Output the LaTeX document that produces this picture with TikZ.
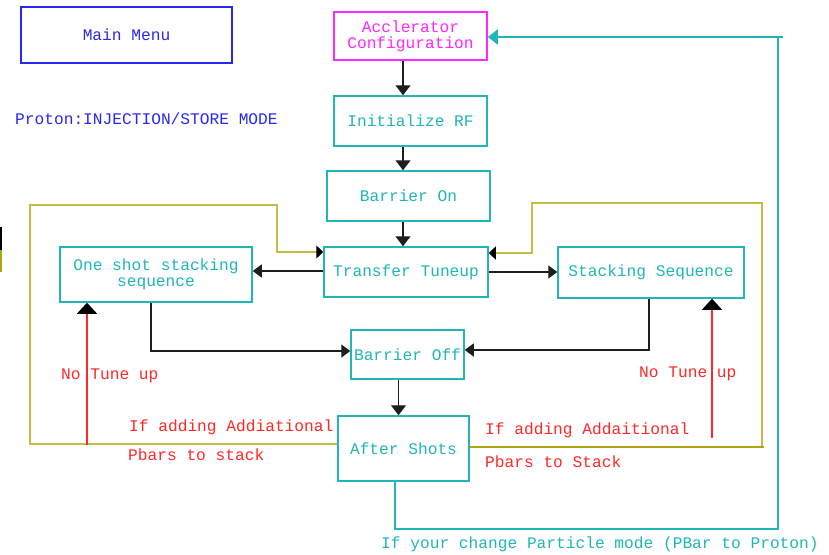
\documentclass[tikz,border=0pt]{standalone}
\usepackage{fontspec}
\setmonofont{Liberation Mono}
\usetikzlibrary{arrows.meta}

\definecolor{boxcyan}{RGB}{32,182,182}
\definecolor{cfgmag}{RGB}{255,40,255}
\definecolor{menublue}{RGB}{40,40,240}
\definecolor{notered}{RGB}{255,40,40}
\definecolor{loopolive}{RGB}{195,190,70}
\definecolor{loopdark}{RGB}{175,165,20}
\definecolor{wire}{RGB}{30,30,30}

\tikzset{
  txt/.style={font=\ttfamily\fontsize{16.2}{18}\selectfont, inner sep=0pt},
  stepbox/.style={draw=boxcyan, text=boxcyan, line width=1.5pt, txt, align=center},
  wireline/.style={draw=wire, line width=1.4pt},
  flow/.style={wireline, -{Triangle[width=15pt,length=10pt]}},
  sideflow/.style={wireline, -{Triangle[width=13pt,length=9pt]}},
  olivewire/.style={draw=loopolive, line width=1.3pt},
  backflow/.style={olivewire, -{Triangle[width=13pt,length=7pt,color=black,fill=black]}},
  cyanloop/.style={draw=boxcyan, line width=1.5pt},
  redflow/.style={draw=notered, line width=1.3pt, -{Triangle[width=20pt,length=11pt,color=black,fill=black]}},
  redtxt/.style={txt, text=notered, anchor=west},
}

\begin{document}
\begin{tikzpicture}[x=1pt, y=-1pt]
\useasboundingbox (0,0) rectangle (829,554);

% boxes
\node[draw=menublue, text=menublue, line width=1.5pt, txt,
      minimum width=211pt, minimum height=56pt] (menu) at (126.5,35) {Main Menu};
\node[txt, text=menublue, anchor=west] (mode) at (15,119) {Proton:INJECTION/STORE MODE};

\node[stepbox, draw=cfgmag, text=cfgmag, minimum width=153pt, minimum height=48pt]
  (accel) at (410.5,36) {Acclerator\\[-2pt]Configuration};
\node[stepbox, minimum width=153pt, minimum height=50pt] (initrf) at (410.5,121) {Initialize RF};
\node[stepbox, minimum width=163pt, minimum height=50pt] (barron) at (408.5,196) {Barrier On};
\node[stepbox, minimum width=164pt, minimum height=50pt] (transfer) at (406,272) {Transfer Tuneup};
\node[stepbox, minimum width=192pt, minimum height=55pt] (oneshot) at (156,274.5) {One shot stacking\\[-2pt]sequence};
\node[stepbox, minimum width=186pt, minimum height=51pt] (stacking) at (651,272.5) {Stacking Sequence};
\node[stepbox, minimum width=113pt, minimum height=49pt] (barroff) at (407.5,354.5) {Barrier Off};
\node[stepbox, minimum width=131pt, minimum height=65pt] (after) at (403.5,448.5) {After Shots};

% main chain
\draw[flow] ([xshift=-7.5pt]accel.south) -- ([xshift=-7.5pt]accel.south |- initrf.north);
\draw[flow] ([xshift=-7.5pt]initrf.south) -- ([xshift=-7.5pt]initrf.south |- barron.north);
\draw[flow] ([xshift=-5.5pt]barron.south) -- ([xshift=-5.5pt]barron.south |- transfer.north);
\draw[sideflow] ([yshift=1pt]transfer.west) -- ([yshift=1pt]transfer.west -| oneshot.east);
\draw[sideflow] (transfer.east) -- (transfer.east -| stacking.west);
\draw[sideflow] ([xshift=-5pt]oneshot.south) |- ([yshift=3.5pt]barroff.west);
\draw[sideflow] ([xshift=-2pt]stacking.south) |- ([yshift=4.5pt]barroff.east);
\draw[flow] ([xshift=-9pt]barroff.south) -- ([xshift=-9pt]barroff.south |- after.north);

% olive return paths into the tuneup
\draw[backflow] ([yshift=4.5pt]after.west) -- (30,444) -- (30,205) -- (277,205) -- (277,252)
  -- ([yshift=20pt]transfer.west);
\draw[backflow] (762,447) -- (762,203) -- (532,203) -- (532,253) -- ([yshift=19pt]transfer.east);
\draw[draw=loopdark, line width=2.6pt] ([yshift=1.5pt]after.east) -- (764,447);

% cyan return path to the configuration
\draw[cyanloop, -{Triangle[width=15pt,length=10pt]}] ([xshift=-8.5pt]after.south) -- (395,529)
  -- (778,529) -- (778,37) -- (accel.east |- 0,37);
\draw[cyanloop] (778,37) -- (783,37);

% red no-tune-up paths
\coordinate (redl) at (87,445);
\coordinate (redr) at (712,438);
\draw[redflow] (redl) -- (redl |- oneshot.south);
\draw[redflow] (redr) -- (redr |- stacking.south);

% labels
\node[redtxt] (ntl) at (61,376) {No Tune up};
\node[redtxt] (ntr) at (639,374) {No Tune up};
\node[redtxt] (addl) at (129,427) {If adding Addiational};
\node[redtxt] (pbl) at (128,455) {Pbars to stack};
\node[redtxt] (addr) at (485,430) {If adding Addaitional};
\node[redtxt] (pbr) at (485,462) {Pbars to Stack};
\node[txt, text=boxcyan, anchor=west] (change) at (381,544) {If your change Particle mode (PBar to Proton)};

% edge marks at the left margin
\draw[draw=black, line width=2pt] (1,227) -- (1,250);
\draw[draw=loopdark, line width=2pt] (1,250) -- (1,272);
\end{tikzpicture}
\end{document}
